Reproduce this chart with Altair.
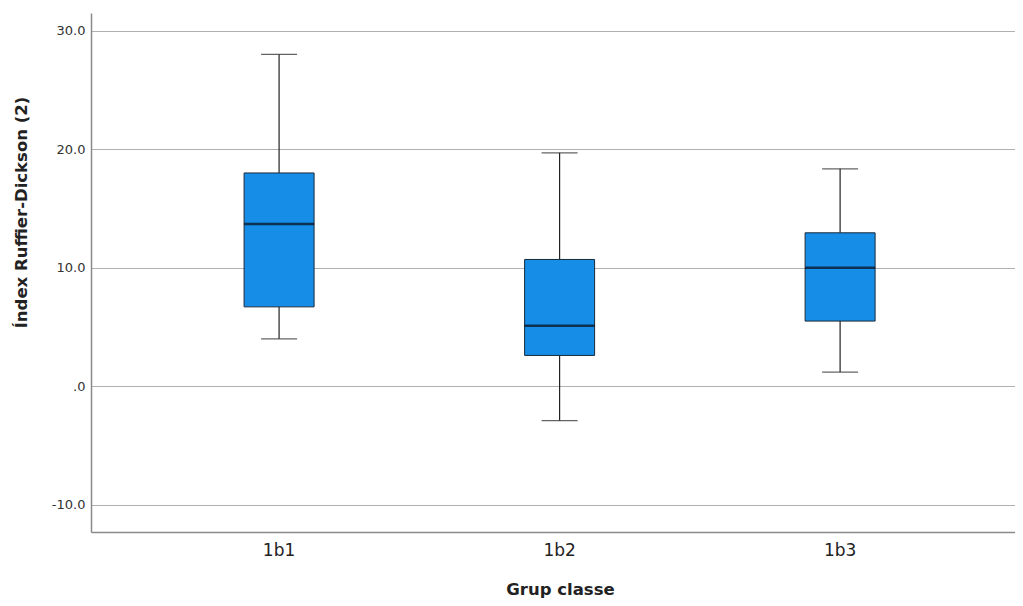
import altair as alt
import pandas as pd

groups = ["1b1", "1b2", "1b3"]
whisker_low = [4.0, -2.9, 1.2]
q1 = [6.7, 2.6, 5.5]
median = [13.7, 5.1, 10.0]
q3 = [18.0, 10.7, 12.95]
whisker_high = [28.0, 19.7, 18.35]

df = pd.DataFrame({
    "group": groups,
    "lo": whisker_low,
    "q1": q1,
    "med": median,
    "q3": q3,
    "hi": whisker_high,
})

FONT = "DejaVu Sans"

x = alt.X(
    "group:N",
    sort=groups,
    scale=alt.Scale(paddingInner=0, paddingOuter=0.147, align=0.58),
    axis=alt.Axis(
        title="Grup classe",
        labelAngle=0,
        ticks=False,
        labelPadding=10,
        labelFontSize=17,
        labelColor="#222222",
        labelFont=FONT,
        titleFont=FONT,
        titleFontSize=16.5,
        titleFontWeight="bold",
        titleColor="#222222",
        titlePadding=23,
        titleX=469,
        domainColor="#8a8a8a",
        domainWidth=1.5,
        grid=False,
    ),
)

yscale = alt.Scale(domain=[-12.3, 31.5], nice=False, zero=False)

base = alt.Chart(df)

grid_axis = alt.Axis(
    title="Índex Ruffier-Dickson (2)",
    values=[-10, 0, 10, 20, 30],
    labelExpr="datum.value == 0 ? '.0' : (datum.value < 0 ? '-' + format(-datum.value, '.1f') : format(datum.value, '.1f'))",
    ticks=False,
    labelPadding=6,
    labelFontSize=13,
    labelFont=FONT,
    labelColor="#333333",
    titleFont=FONT,
    titleFontSize=16.5,
    titleFontWeight="bold",
    titleColor="#222222",
    titlePadding=22,
    titleY=199,
    domainColor="#8a8a8a",
    domainWidth=1.5,
    grid=True,
    gridColor="#b0b0b0",
    gridWidth=1,
)

whisk_low = base.mark_rule(color="#222222", strokeWidth=1.2).encode(
    x=x,
    y=alt.Y("lo:Q", scale=yscale, axis=grid_axis),
    y2="q1:Q",
)
whisk_high = base.mark_rule(color="#222222", strokeWidth=1.2).encode(
    x=x,
    y=alt.Y("q3:Q", scale=yscale),
    y2="hi:Q",
)
cap_low = base.mark_tick(color="#222222", size=36, thickness=1.2).encode(
    x=x, y=alt.Y("lo:Q", scale=yscale)
)
cap_high = base.mark_tick(color="#222222", size=36, thickness=1.2).encode(
    x=x, y=alt.Y("hi:Q", scale=yscale)
)
box = base.mark_bar(
    width=70, color="#168de6", stroke="#1a2a3a", strokeWidth=1
).encode(
    x=x,
    y=alt.Y("q1:Q", scale=yscale),
    y2="q3:Q",
)
med = base.mark_tick(color="#0a0a14", size=70, thickness=2.5).encode(
    x=x, y=alt.Y("med:Q", scale=yscale)
)

chart = (
    alt.layer(whisk_low, whisk_high, cap_low, cap_high, box, med)
    .properties(
        width=924,
        height=519,
        padding={"left": 5, "top": 5, "right": 0, "bottom": 5},
        background="white",
    )
    .configure_view(stroke=None)
)

chart.save("out.html", embed_options={"renderer": "svg", "actions": False})
